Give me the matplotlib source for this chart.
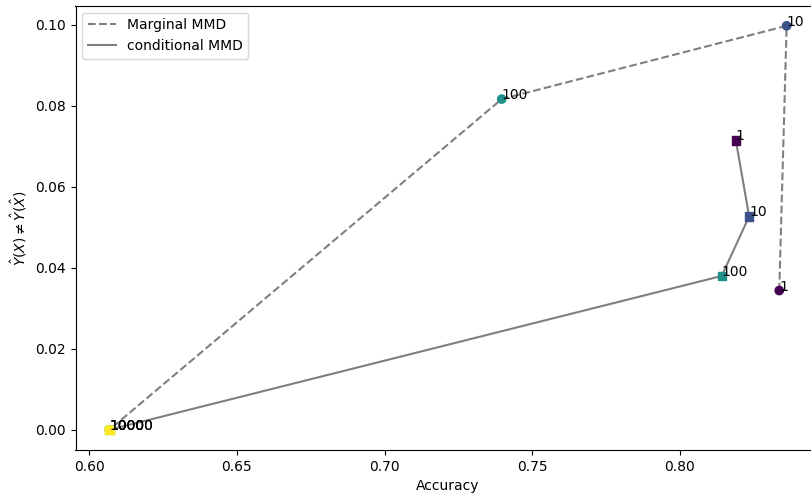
import numpy as np
import matplotlib
matplotlib.use('Agg')
import matplotlib.pyplot as plt

# regularisation strengths
lambdas = [1, 10, 100, 1000, 10000]

# marginal MMD
marg_acc = [0.8337, 0.8362, 0.7397, 0.6068, 0.6068]
marg_unf = [0.0344, 0.0998, 0.0817, 0.0, 0.0]

# conditional MMD
cond_acc = [0.8190, 0.8235, 0.8142, 0.6068, 0.6068]
cond_unf = [0.0715, 0.0527, 0.0380, 0.0, 0.0]

fig = plt.figure(figsize=(8.11, 4.95), dpi=100)
ax = fig.add_axes([75.5 / 811, 45 / 495, 745 / 811, 444.4 / 495])

colors = np.log10(lambdas)

ax.plot(marg_acc, marg_unf, '--', color='k', alpha=0.5, label='Marginal MMD')
ax.scatter(marg_acc, marg_unf, c=colors, cmap='viridis', marker='o', zorder=3)
for a, u, l in zip(marg_acc, marg_unf, lambdas):
    ax.text(a, u, str(l))

ax.plot(cond_acc, cond_unf, '-', color='k', alpha=0.5, label='conditional MMD')
ax.scatter(cond_acc, cond_unf, c=colors, cmap='viridis', marker='s', zorder=3)
for a, u, l in zip(cond_acc, cond_unf, lambdas):
    ax.text(a, u, str(l))

ax.set_xlabel('Accuracy')
ax.set_ylabel(r'$\hat{Y}(X) \neq \hat{Y}(\hat{X})$')
ax.legend(loc='upper left')

fig.savefig('out.png', dpi=100)
